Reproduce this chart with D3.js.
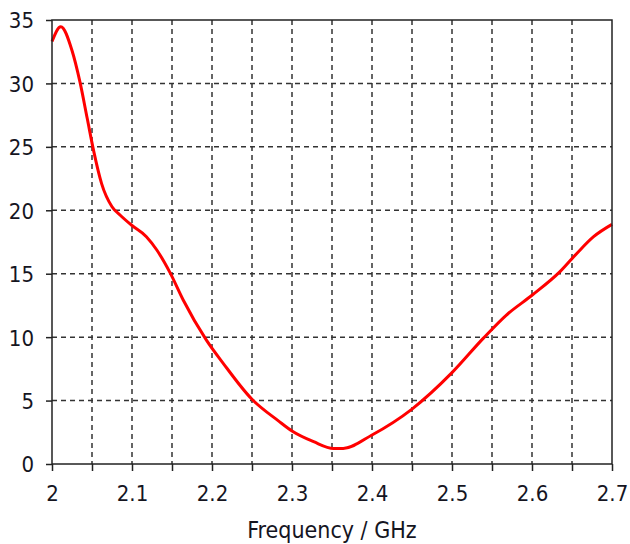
<!DOCTYPE html>
<html>
<head>
<meta charset="utf-8">
<script src="https://cdn.jsdelivr.net/npm/d3@7"></script>
<style>
  body { margin: 0; background: #fff; }
  svg text { font-family: "DejaVu Sans Condensed", "DejaVu Sans", sans-serif; font-stretch: condensed; fill: #15151f; }
</style>
</head>
<body>
<script>
// S-parameter curve
var freq = [2.000, 2.011, 2.025, 2.035, 2.044, 2.052, 2.062, 2.075, 2.085, 2.100, 2.118, 2.131,
            2.148, 2.164, 2.193, 2.214, 2.250, 2.283, 2.300, 2.327, 2.352, 2.364, 2.400, 2.450,
            2.500, 2.539, 2.568, 2.600, 2.635, 2.656, 2.677, 2.700]
var vals = [33.3, 34.47, 32.6, 30.1, 27.25, 24.7, 22.1, 20.28, 19.63, 18.8, 17.92, 16.87,
            15.03, 12.93, 9.77, 7.94, 5.1, 3.4, 2.6, 1.76, 1.23, 1.23, 2.29, 4.33,
            7.2, 9.9, 11.74, 13.3, 15.16, 16.6, 17.92, 18.89]

var xTickLabels = [2, 2.1, 2.2, 2.3, 2.4, 2.5, 2.6, 2.7]
var xMinor = [2, 2.05, 2.1, 2.15, 2.2, 2.25, 2.3, 2.35, 2.4, 2.45, 2.5, 2.55, 2.6, 2.65, 2.7]
var yTickLabels = [0, 5, 10, 15, 20, 25, 30, 35]
var xTitle = "Frequency / GHz"

var width = 630, height = 544
var mLeft = 52, mRight = 612, mTop = 20, mBottom = 464

var x = d3.scaleLinear().domain([2, 2.7]).range([mLeft, mRight])
var y = d3.scaleLinear().domain([0, 35]).range([mBottom, mTop])

var svg = d3.select("body").append("svg")
    .attr("width", width)
    .attr("height", height)

// grid
var grid = svg.append("g")
    .attr("stroke", "#333")
    .attr("stroke-width", 1.5)
    .attr("stroke-dasharray", "5,4")

grid.selectAll(".vg")
  .data(xMinor.slice(1, -1))
  .join("line")
    .attr("class", "vg")
    .attr("x1", d => x(d)).attr("x2", d => x(d))
    .attr("y1", mTop).attr("y2", mBottom)

grid.selectAll(".hg")
  .data(yTickLabels.slice(1, -1))
  .join("line")
    .attr("class", "hg")
    .attr("x1", mLeft).attr("x2", mRight)
    .attr("y1", d => y(d)).attr("y2", d => y(d))

// curve
var line = d3.line()
    .x((d, i) => x(freq[i]))
    .y(d => y(d))
    .curve(d3.curveMonotoneX)

svg.append("path")
    .datum(vals)
    .attr("fill", "none")
    .attr("stroke", "#ff0000")
    .attr("stroke-width", 3)
    .attr("stroke-linejoin", "round")
    .attr("d", line)

// frame
svg.append("rect")
    .attr("x", mLeft).attr("y", mTop)
    .attr("width", mRight - mLeft).attr("height", mBottom - mTop)
    .attr("fill", "none")
    .attr("stroke", "#222")
    .attr("stroke-width", 1.5)

// axes
var xAxis = d3.axisBottom(x)
    .tickValues(xMinor)
    .tickSize(7)
    .tickFormat(d => xTickLabels.some(v => Math.abs(v - d) < 1e-9) ? d3.format("")(+d.toFixed(1)) : "")

var gx = svg.append("g")
    .attr("transform", `translate(0,${mBottom})`)
    .call(xAxis)
gx.select(".domain").remove()
gx.selectAll(".tick line").attr("stroke", "#222").attr("stroke-width", 1.5)
gx.selectAll(".tick text")
    .attr("font-size", 22)
    .attr("y", 37)
    .attr("dy", 0)

var yAxis = d3.axisLeft(y)
    .tickValues(yTickLabels)
    .tickSize(6)
    .tickFormat(d3.format("d"))

var gy = svg.append("g")
    .attr("transform", `translate(${mLeft},0)`)
    .call(yAxis)
gy.select(".domain").remove()
gy.selectAll(".tick line").attr("stroke", "#222").attr("stroke-width", 1.5)
gy.selectAll(".tick text")
    .attr("font-size", 22)
    .attr("x", -18)
    .attr("dy", "0.36em")

svg.append("text")
    .attr("x", (mLeft + mRight) / 2)
    .attr("y", 538)
    .attr("text-anchor", "middle")
    .attr("font-size", 23)
    .text(xTitle)
</script>
</body>
</html>
